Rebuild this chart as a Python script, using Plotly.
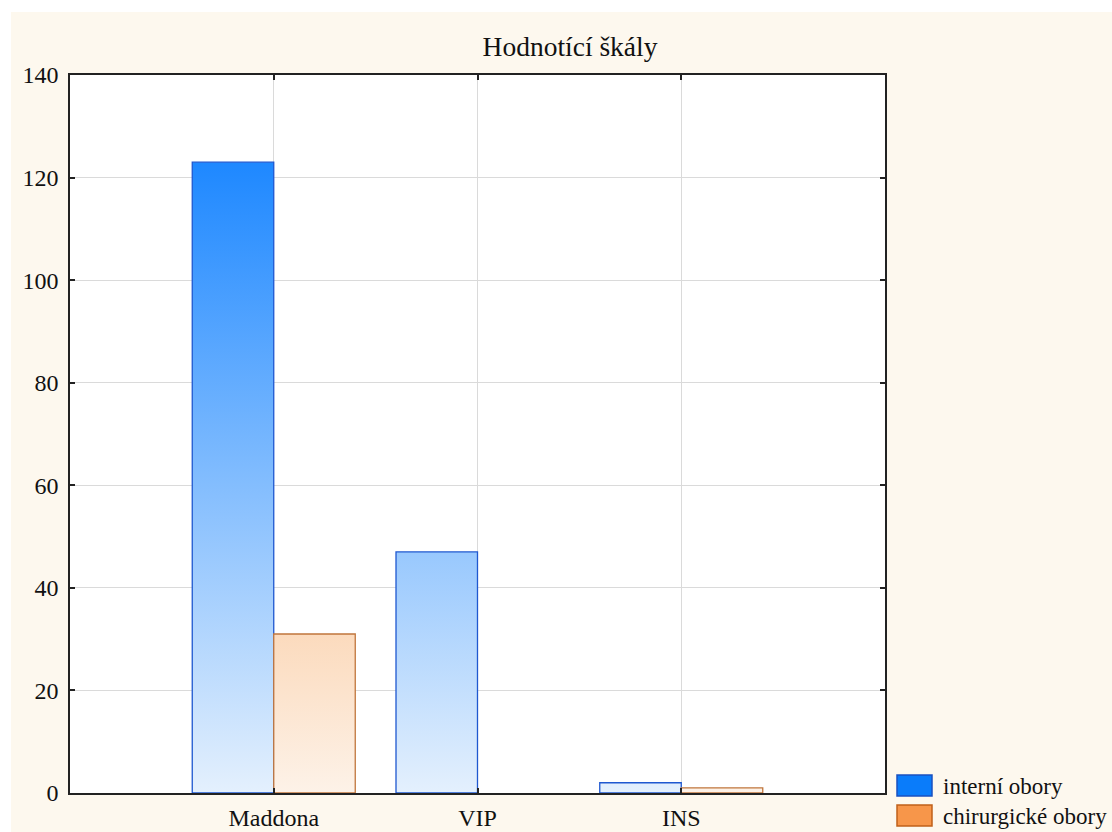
import plotly.graph_objects as go

# Data
categories = ["Maddona", "VIP", "INS"]
series_names = ["interní obory", "chirurgické obory"]
interni = [123, 47, 2]
chirurgicke = [31, 0, 1]
y_ticks = [0, 20, 40, 60, 80, 100, 120, 140]

series_values = [interni, chirurgicke]
# gradient colour stops: light at the base, saturated toward the top of the scale
grad_scales = [
    [[0, "#e4f0fd"], [1, "#1e88ff"]],
    [[0, "#fdf2e8"], [1, "#f7953e"]],
]
edge_colors = ["#1f58d0", "#c0763c"]
legend_fill = ["#0a7cfa", "#f7964a"]
legend_edge = ["#1a50c0", "#c0601a"]

FONT = "Liberation Serif"
W, H = 1112, 832
L, R, T, B = 70, 885, 75, 793  # plot area in pixels

bar_w = 0.4
grad_top = max(max(v) for v in series_values)

fig = go.Figure()

for k, vals in enumerate(series_values):
    xs, ys = [], []
    for i, v in enumerate(vals):
        if v <= 0:
            continue
        x0 = i - bar_w + k * bar_w
        x1 = x0 + bar_w
        xs += [x0, x0, x1, x1, x0, None]
        ys += [0, v, v, 0, 0, None]
    fig.add_trace(go.Scatter(
        x=xs, y=ys, mode="lines", fill="toself",
        fillgradient=dict(type="vertical", colorscale=grad_scales[k],
                          start=0, stop=grad_top),
        line=dict(color=edge_colors[k], width=1.3),
        name=series_names[k], showlegend=False, hoverinfo="skip",
    ))

# Legend drawn as swatches + labels below-right of the plot area
def px_x(p):
    return (p - L) / (R - L)

def px_y(p):
    return (B - p) / (B - T)

shapes = [
    # white strips framing the cream page
    dict(type="rect", xref="paper", yref="paper", x0=px_x(0), x1=px_x(11),
         y0=px_y(H), y1=px_y(0), fillcolor="white", line_width=0, layer="below"),
    dict(type="rect", xref="paper", yref="paper", x0=px_x(0), x1=px_x(W),
         y0=px_y(12), y1=px_y(0), fillcolor="white", line_width=0, layer="below"),
]
annotations = []
for k, name in enumerate(series_names):
    top = 775 + k * 30
    shapes.append(dict(type="rect", xref="paper", yref="paper",
                       x0=px_x(897), x1=px_x(932), y0=px_y(top + 21), y1=px_y(top),
                       fillcolor=legend_fill[k],
                       line=dict(color=legend_edge[k], width=1.5)))
    annotations.append(dict(xref="paper", yref="paper", x=px_x(941), y=px_y(top + 11),
                            xanchor="left", yanchor="middle", text=name,
                            showarrow=False,
                            font=dict(family=FONT, size=23, color="#111111")))

axis_common = dict(
    showline=True, linecolor="#222222", linewidth=1.5, mirror="ticks",
    ticks="inside", ticklen=5, tickcolor="#222222", tickwidth=1.5,
    showgrid=True, gridcolor="#dadada", gridwidth=1, zeroline=False,
    automargin=False,
    tickfont=dict(family=FONT, size=24, color="#111111"),
)

fig.update_layout(
    width=W, height=H,
    margin=dict(l=L, r=W - R, t=T, b=H - B, pad=0, autoexpand=False),
    paper_bgcolor="#fdf8ee",
    plot_bgcolor="white",
    title=dict(text="Hodnotící škály", x=570 / W, xref="container",
               xanchor="center", y=1 - 46 / H, yref="container", yanchor="middle",
               font=dict(family=FONT, size=27.5, color="#111111")),
    xaxis=dict(range=[-1, 3], tickvals=list(range(len(categories))),
               ticktext=categories, ticklabelstandoff=2, **axis_common),
    yaxis=dict(range=[0, 140], tickvals=y_ticks, ticklabelstandoff=5, **axis_common),
    shapes=shapes,
    annotations=annotations,
    showlegend=False,
)

fig.write_html("out.html")
